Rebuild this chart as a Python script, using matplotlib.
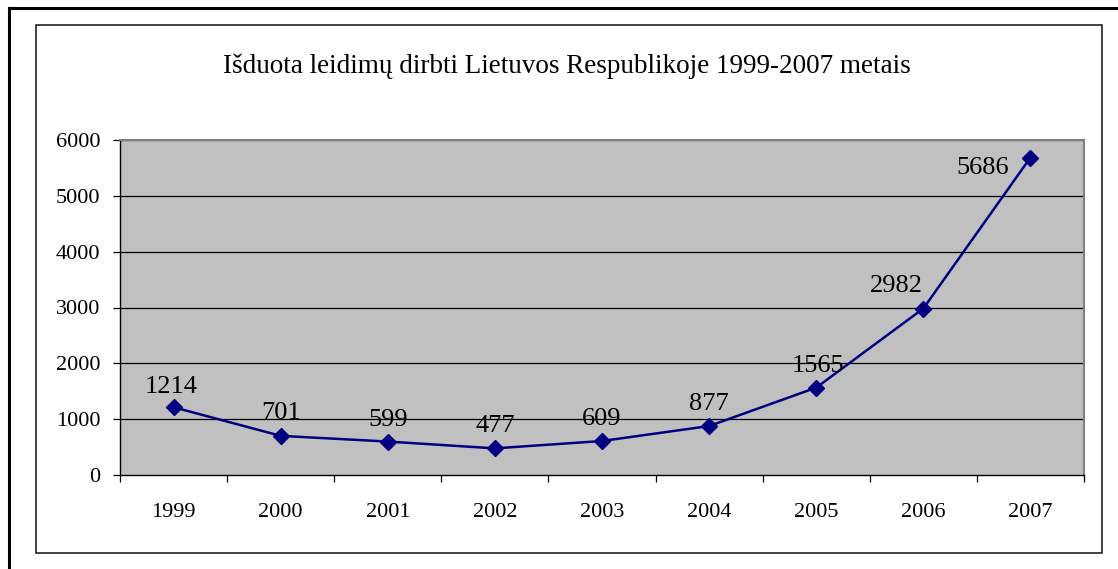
import matplotlib
matplotlib.use("Agg")
import matplotlib.pyplot as plt
from matplotlib.patches import Rectangle
from matplotlib.lines import Line2D
import numpy as np

years = ["1999", "2000", "2001", "2002", "2003", "2004", "2005", "2006", "2007"]
permits = [1214, 701, 599, 477, 609, 877, 1565, 2982, 5686]
yticks = [0, 1000, 2000, 3000, 4000, 5000, 6000]
title = "Išduota leidimų dirbti Lietuvos Respublikoje 1999-2007 metais"

# label offsets in pixels (dx, dy of baseline centre relative to point)
label_offsets = [(-2, 14), (0, 17), (0, 16), (0, 16), (0, 16), (0, 16), (2, 16), (-27, 17), (-48, -16)]

plt.rcParams['font.family'] = ['Liberation Serif', 'DejaVu Serif']

W, H = 1118, 569
fig = plt.figure(figsize=(W / 100, H / 100), dpi=100)

# outer border (left and top)
fig.add_artist(Line2D([9 / W, 9 / W], [0, 1 - 8 / H], color='black', lw=2.2, transform=fig.transFigure))
fig.add_artist(Line2D([9 / W, 1], [1 - 8 / H, 1 - 8 / H], color='black', lw=2.2, transform=fig.transFigure))
# inner chart frame
fig.add_artist(Rectangle((36 / W, 1 - 553 / H), (1102 - 36) / W, (553 - 25) / H,
                         transform=fig.transFigure, fill=False, ec='#222222', lw=1.2))

ax = fig.add_axes([120 / W, 1 - 475 / H, (1084 - 120) / W, (475 - 140) / H])
ax.set_facecolor('#C0C0C0')
x = np.arange(len(years))
ax.set_xlim(-0.5, len(years) - 0.5)
ax.set_ylim(0, 6000)

for yv in yticks[1:]:
    ax.axhline(yv, color='black', lw=0.9, zorder=1)

ax.plot(x, permits, color='#000080', lw=1.8, marker='D', ms=8, zorder=4)

for xi, v, (dx, dy) in zip(x, permits, label_offsets):
    ax.annotate(str(v), (xi, v), xytext=(dx * 0.72, dy * 0.72), textcoords='offset points',
                ha='center', va='baseline', fontsize=19, color='black', zorder=5)

ax.set_yticks(yticks)
ax.set_yticklabels([str(t) for t in yticks], fontsize=16)
ax.set_xticks(np.arange(-0.5, len(years)), minor=False)
ax.set_xticklabels([])
ax.set_xticks(x, minor=True)
ax.set_xticklabels(years, minor=True, fontsize=16)
ax.tick_params(axis='x', which='major', direction='out', length=5, width=0.9, color='black')
ax.tick_params(axis='x', which='minor', length=0, pad=20)
ax.tick_params(axis='y', direction='out', length=5, width=0.9, color='black', pad=9)

for s in ['top', 'right']:
    ax.spines[s].set_color('#808080')
    ax.spines[s].set_linewidth(1.5)
for s in ['left', 'bottom']:
    ax.spines[s].set_color('black')
    ax.spines[s].set_linewidth(1.0)

fig.text(567 / W, 1 - 66 / H, title, ha='center', va='center', fontsize=19.5)

fig.savefig('out.png', dpi=100)
